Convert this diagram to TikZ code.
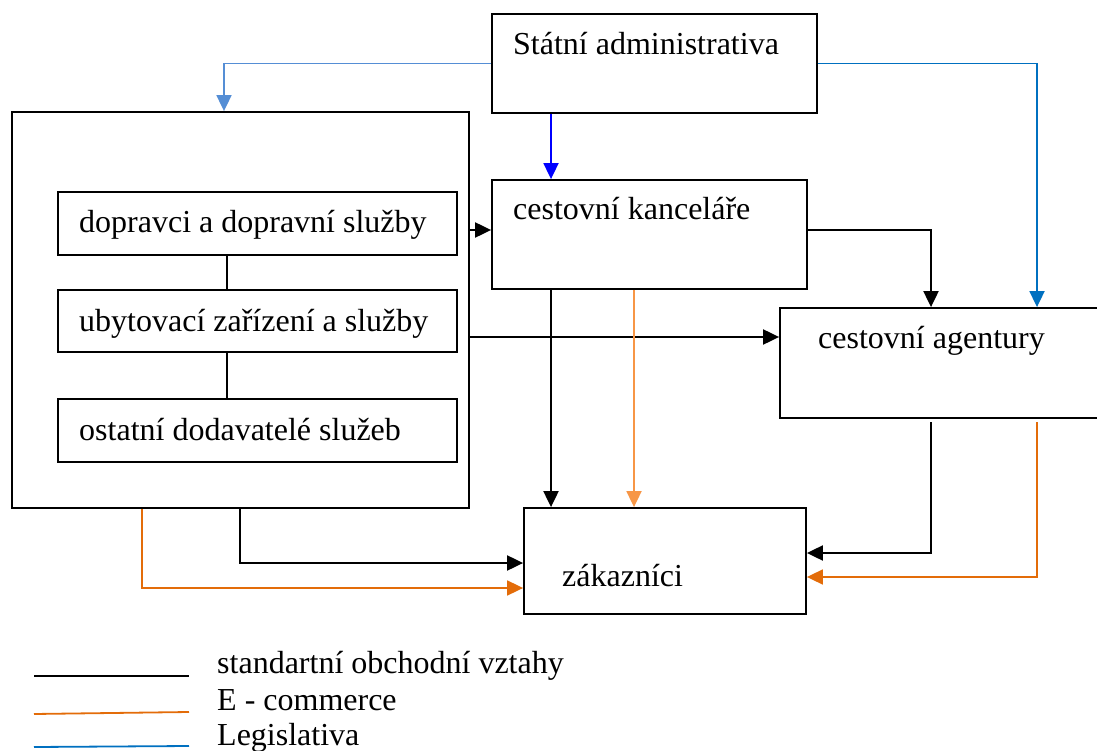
\documentclass[tikz,border=0pt]{standalone}
\usepackage{fontspec}
\setmainfont{Liberation Serif}
\usetikzlibrary{arrows.meta,calc}
\definecolor{lblue}{HTML}{558ED5}
\definecolor{dblue}{HTML}{0000FF}
\definecolor{mblue}{HTML}{0070C0}
\definecolor{dorange}{HTML}{E36C09}
\definecolor{lorange}{HTML}{F79646}
\tikzset{
  box/.style={draw=black, line width=1.8pt, rectangle, inner sep=0pt, fill=none},
  lbl/.style={anchor=base west, inner sep=0pt, font=\fontsize{32}{38}\selectfont},
  tip/.style={-{Triangle[length=16pt,width=15pt]}},
  arrk/.style={tip, line width=2pt, draw=black},
  arrlb/.style={tip, line width=1.8pt, draw=lblue, color=lblue},
  arrdb/.style={tip, line width=1.8pt, draw=dblue, color=dblue},
  arrmb/.style={tip, line width=1.8pt, draw=mblue, color=mblue},
  arrdo/.style={tip, line width=1.8pt, draw=dorange, color=dorange},
  arrlo/.style={tip, line width=1.8pt, draw=lorange, color=lorange},
  link/.style={line width=1.4pt, draw=black}
}
\begin{document}
\begin{tikzpicture}[x=1pt,y=-1pt]
\useasboundingbox (0,0) rectangle (1097,751);
% boxes
\node[box, minimum width=457pt, minimum height=396pt] (big) at (240.5,310) {};
\node[box, minimum width=399pt, minimum height=63pt] (dop) at (257.5,223.5) {};
\node[box, minimum width=399pt, minimum height=62pt] (uby) at (257.5,321) {};
\node[box, minimum width=399pt, minimum height=63pt] (ost) at (257.5,430.5) {};
\node[box, minimum width=325pt, minimum height=99pt] (stat) at (654.5,63.5) {};
\node[box, minimum width=315pt, minimum height=109pt] (ck) at (649.5,234.5) {};
\node[box, minimum width=322pt, minimum height=110pt] (ca) at (941,363) {};
\node[box, minimum width=282pt, minimum height=106pt] (zak) at (665,561) {};
% labels
\node[lbl] (tstat) at (513,55) {Státní administrativa};
\node[lbl] (tck) at (513,220) {cestovní kanceláře};
\node[lbl] (tdop) at (79,233) {dopravci a dopravní služby};
\node[lbl] (tuby) at (79,331) {ubytovací zařízení a služby};
\node[lbl] (tost) at (79,440) {ostatní dodavatelé služeb};
\node[lbl] (tca) at (818,348) {cestovní agentury};
\node[lbl] (tzak) at (562,586) {zákazníci};
% thicker mark on top of big box
\coordinate (m1) at (156,112);
\coordinate (m2) at (203,112);
\draw[line width=2.8pt] (m1) -- (m2);
% helper coordinates
\coordinate (xA) at (551,0);
\coordinate (xB) at (634,0);
\coordinate (xC) at (931,0);
\coordinate (xD) at (1037,0);
\coordinate (xE) at (240,0);
\coordinate (xF) at (142,0);
\coordinate (xG) at (224,0);
\coordinate (xH) at (227,0);
\coordinate (yA) at (0,230);
\coordinate (yB) at (0,337);
\coordinate (yC) at (0,553);
\coordinate (yD) at (0,577);
\coordinate (yE) at (0,563);
\coordinate (yF) at (0,588);
\coordinate (caC) at (931,422);
\coordinate (caD) at (1037,422);
% links inside big box
\draw[link] (dop.south -| xH) -- (uby.north -| xH);
\draw[link] (uby.south -| xH) -- (ost.north -| xH);
% legislation
\draw[arrlb] (stat.west) -| (big.north -| xG);
\draw[arrdb] (stat.south -| xA) -- (ck.north -| xA);
\draw[arrmb] (stat.east) -| (ca.north -| xD);
% standard relations
\draw[arrk] (big.east |- yA) -- (ck.west |- yA);
\draw[arrk] (big.east |- yB) -- (ca.west |- yB);
\draw[arrk] (ck.east |- yA) -| (ca.north -| xC);
\draw[arrk] (ck.south -| xA) -- (zak.north -| xA);
\draw[arrk] (big.south -| xE) |- (zak.west |- yE);
\draw[arrk] (caC) |- (zak.east |- yC);
% e-commerce
\draw[arrlo] (ck.south -| xB) -- (zak.north -| xB);
\draw[arrdo] (big.south -| xF) |- (zak.west |- yF);
\draw[arrdo] (caD) |- (zak.east |- yD);
% legend
\coordinate (l1a) at (34,676); \coordinate (l1b) at (189,676);
\coordinate (l2a) at (34,714); \coordinate (l2b) at (189,712);
\coordinate (l3a) at (34,747); \coordinate (l3b) at (189,746);
\draw[line width=2pt, black] (l1a) -- (l1b);
\draw[line width=1.8pt, dorange] (l2a) -- (l2b);
\draw[line width=1.8pt, mblue] (l3a) -- (l3b);
\node[lbl] (leg1) at (217,673) {standartní obchodní vztahy};
\node[lbl] (leg2) at (217,710) {E - commerce};
\node[lbl] (leg3) at (217,745) {Legislativa};
\end{tikzpicture}
\end{document}
